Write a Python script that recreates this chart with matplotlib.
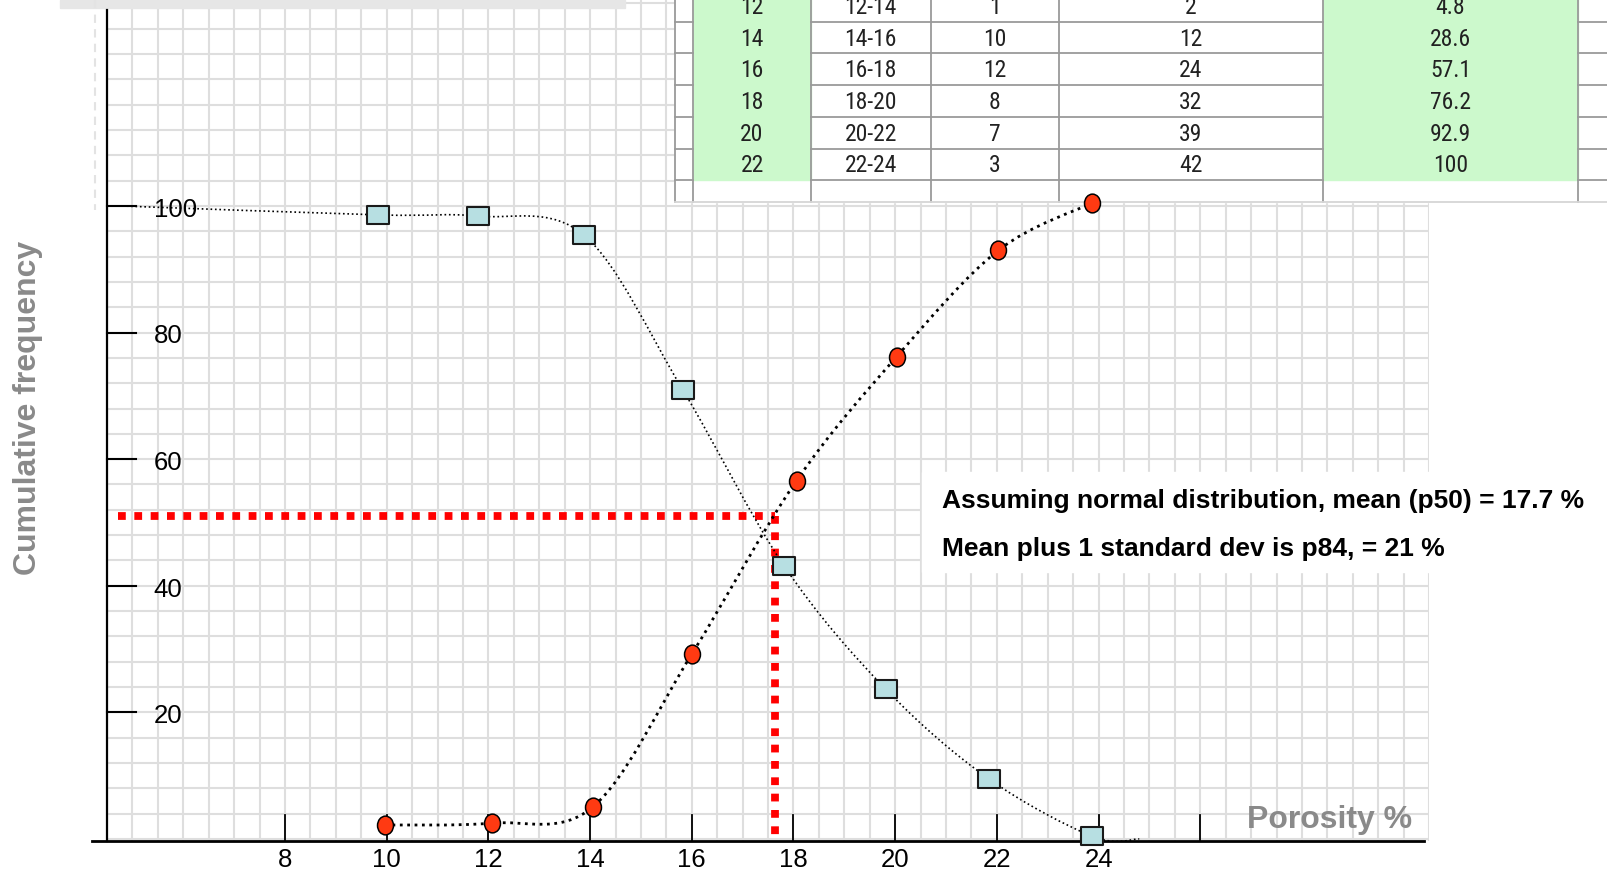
import numpy as np
import matplotlib.pyplot as plt
from matplotlib.path import Path
from matplotlib.patches import PathPatch, Rectangle
from matplotlib import transforms, font_manager

# cumulative % (ascending), plotted at the upper class bound
red_x = [9.97, 12.07, 14.06, 16.0, 18.06, 20.03, 22.03, 23.88]
red_y = [2.2, 2.5, 5.1, 29.2, 56.6, 76.2, 93.0, 100.5]

# 100 - cumulative % (descending)
blue_x = [9.83, 11.79, 13.88, 15.82, 17.81, 19.81, 21.84, 23.88]
blue_y = [98.6, 98.4, 95.4, 71.0, 43.2, 23.7, 9.5, 0.4]
blue_start = (4.8, 100.0)
blue_end = (24.8, 0.0)

# p50 read-off
p50_x = 17.64
p50_y = 51.0

x_ticks = [8, 10, 12, 14, 16, 18, 20, 22, 24, 26]
x_labels = ["8", "10", "12", "14", "16", "18", "20", "22", "24", ""]
y_ticks = [20, 40, 60, 80, 100]

# frequency table (top rows cut off in the picture)
tbl_porosity = ["12", "14", "16", "18", "20", "22"]
tbl_class = ["12-14", "14-16", "16-18", "18-20", "20-22", "22-24"]
tbl_freq = ["1", "10", "12", "8", "7", "3"]
tbl_cum = ["2", "12", "24", "32", "39", "42"]
tbl_pct = ["4.8", "28.6", "57.1", "76.2", "92.9", "100"]

note_lines = ["Assuming normal distribution, mean (p50) = 17.7 %",
              "Mean plus 1 standard dev is p84, = 21 %"]

W, H = 1607, 873
fig = plt.figure(figsize=(W / 100, H / 100), dpi=100)
ax = fig.add_axes([107.0 / W, (H - 842.1) / H, (1429.1 - 107.0) / W, 841.8 / H])
ax.set_xlim(4.5, 30.5)
ax.set_ylim(-0.5, 132.5)
ax.axis("off")

# pixel coords, origin top-left
T = transforms.Affine2D().scale(1 / W, -1 / H).translate(0, 1) + fig.transFigure

# pick a narrow face for the spreadsheet cells if one is installed
fonts = font_manager.fontManager.ttflist
names = {f.name for f in fonts}
tbl_font = dict(family="Liberation Sans", fontsize=13.5)
for nm in ["Liberation Sans Narrow", "Roboto Condensed", "Open Sans Condensed", "Noto Sans Condensed"]:
    if nm in names:
        tbl_font = dict(family=nm, fontsize=17)
        break
else:
    cond = [f for f in fonts if f.stretch in ("condensed", "semi-condensed")
            and f.style == "normal" and f.weight in (400, "normal", "regular")]
    if cond:
        tbl_font = dict(family=cond[0].name, fontstretch=cond[0].stretch, fontsize=16.5)
sans = "Liberation Sans"

grid_c = "#dedede"
ax.vlines(np.arange(4.5, 30.51, 0.5), -0.4, 132.5, color=grid_c, lw=1.5, zorder=1)
ax.hlines(np.arange(0, 132.1, 4), 4.5, 30.5, color=grid_c, lw=1.5, zorder=1)

# leftovers at top-left
ax.add_patch(Rectangle((60, 0), 565, 8, transform=T, color="#e6e6e6", zorder=2, clip_on=False))
ax.plot([95, 95], [0, 210], transform=T, color="#e3e3e3", lw=1.5, ls=(0, (4, 3)), zorder=2, clip_on=False)

# axes lines and ticks
ax.plot([4.5, 4.5], [-0.4, 130.9], color="black", lw=1.6, zorder=3, clip_on=False)
ax.plot([4.21, 30.4], [-0.4, -0.4], color="black", lw=2.0, zorder=3, clip_on=False)
for v in y_ticks:
    ax.plot([4.5, 5.07], [v, v], color="black", lw=1.5, zorder=3, clip_on=False)
    ax.text(5.42, v - 0.6, str(v), fontsize=18.5, family=sans, ha="left", va="center", zorder=3)
for t, lab in zip(x_ticks, x_labels):
    ax.plot([t, t], [-0.4, 3.8], color="black", lw=1.3, zorder=3, clip_on=False)
    ax.text(t, -3.3, lab, fontsize=18.5, family=sans, ha="center", va="center", clip_on=False)


def smooth_path(xs, ys):
    pts = np.column_stack([xs, ys])
    ext = np.vstack([pts[0], pts, pts[-1]])
    verts = [pts[0]]
    codes = [Path.MOVETO]
    for i in range(1, len(ext) - 2):
        p0, p1, p2, p3 = ext[i - 1], ext[i], ext[i + 1], ext[i + 2]
        verts += [p1 + (p2 - p0) / 6, p2 - (p3 - p1) / 6, p2]
        codes += [Path.CURVE4] * 3
    return Path(verts, codes)


bx = [blue_start[0]] + blue_x + [blue_end[0]]
by = [blue_start[1]] + blue_y + [blue_end[1]]
ax.add_patch(PathPatch(smooth_path(bx, by), fill=False, color="black", lw=1.2, ls=":", zorder=4))
ax.add_patch(PathPatch(smooth_path(red_x, red_y), fill=False, color="black", lw=2.0, ls=":", zorder=4))

# p50 construction lines
ax.plot([4.71, p50_x], [p50_y, p50_y], color="#ff0000", lw=5.6, dashes=[1.0, 1.1],
        solid_capstyle="butt", dash_capstyle="butt", zorder=3.5)
ax.plot([p50_x, p50_x], [p50_y, 0.1], color="#ff0000", lw=5.6, dashes=[1.0, 1.1],
        solid_capstyle="butt", dash_capstyle="butt", zorder=3.5)

ellipse = Path.unit_circle().transformed(transforms.Affine2D().scale(0.85, 1.0))
box = Path([(-1, -0.864), (1, -0.864), (1, 0.864), (-1, 0.864), (-1, -0.864)],
           [Path.MOVETO, Path.LINETO, Path.LINETO, Path.LINETO, Path.CLOSEPOLY])
ax.plot(blue_x, blue_y, ls="none", marker=box, ms=15.5, mfc="#b7dfe2", mec="#1a1a1a", mew=1.5,
        zorder=5, clip_on=False)
ax.plot(red_x, red_y, ls="none", marker=ellipse, ms=13.5, mfc="#ff3a12", mec="black", mew=1.1,
        zorder=5, clip_on=False)

# spreadsheet table
col_edges = [675, 693, 811, 930.5, 1058.5, 1323, 1578, 1607]
row_h = 31.7
row_lines = 21.7 + row_h * np.arange(6)
tbl_bottom = 202
line_c = "#9a9a9a"
ax.add_patch(Rectangle((675, 0), W - 675, tbl_bottom, transform=T, color="white", zorder=2, clip_on=False))
for c in (1, 5):
    ax.add_patch(Rectangle((col_edges[c], -12), col_edges[c + 1] - col_edges[c], row_lines[-1] + 12,
                           transform=T, color="#ccf9cc", zorder=2.1, clip_on=False))
for c in (0, 2, 3, 4, 6):
    for yl in row_lines:
        ax.plot([col_edges[c], col_edges[c + 1]], [yl, yl], transform=T, color=line_c, lw=1.3,
                zorder=2.2, clip_on=False)
for xe in col_edges[:-1]:
    ax.plot([xe, xe], [-12, tbl_bottom], transform=T, color=line_c, lw=1.3, zorder=2.2, clip_on=False)
ax.plot([675, W], [tbl_bottom, tbl_bottom], transform=T, color="#d6d6d6", lw=1.3, zorder=2.2, clip_on=False)

columns = [tbl_porosity, tbl_class, tbl_freq, tbl_cum, tbl_pct]
for c, col in enumerate(columns, start=1):
    xc = (col_edges[c] + col_edges[c + 1]) / 2
    for k, val in enumerate(col):
        yc = row_lines[0] - row_h + row_h * k + 17.5
        ax.text(xc, yc, val, transform=T, color="#222222", ha="center", va="center",
                zorder=2.3, clip_on=False, **tbl_font)

# note box
ax.add_patch(Rectangle((922, 472), W - 922, 100, transform=T, color="white", zorder=2, clip_on=False))
for yt, line in zip([501, 549], note_lines):
    ax.text(942, yt, line, transform=T, fontsize=19, family=sans, weight="bold",
            ha="left", va="center", zorder=2.3, clip_on=False)

ax.text(28, 408, "Cumulative frequency", transform=T, fontsize=23, family=sans, weight="bold",
        color="#8a8a8a", rotation=90, ha="center", va="center", clip_on=False)
ax.text(1330, 820, "Porosity %", transform=T, fontsize=23, family=sans, weight="bold",
        color="#8a8a8a", ha="center", va="center", zorder=3, clip_on=False)

fig.savefig("out.png", dpi=100)
